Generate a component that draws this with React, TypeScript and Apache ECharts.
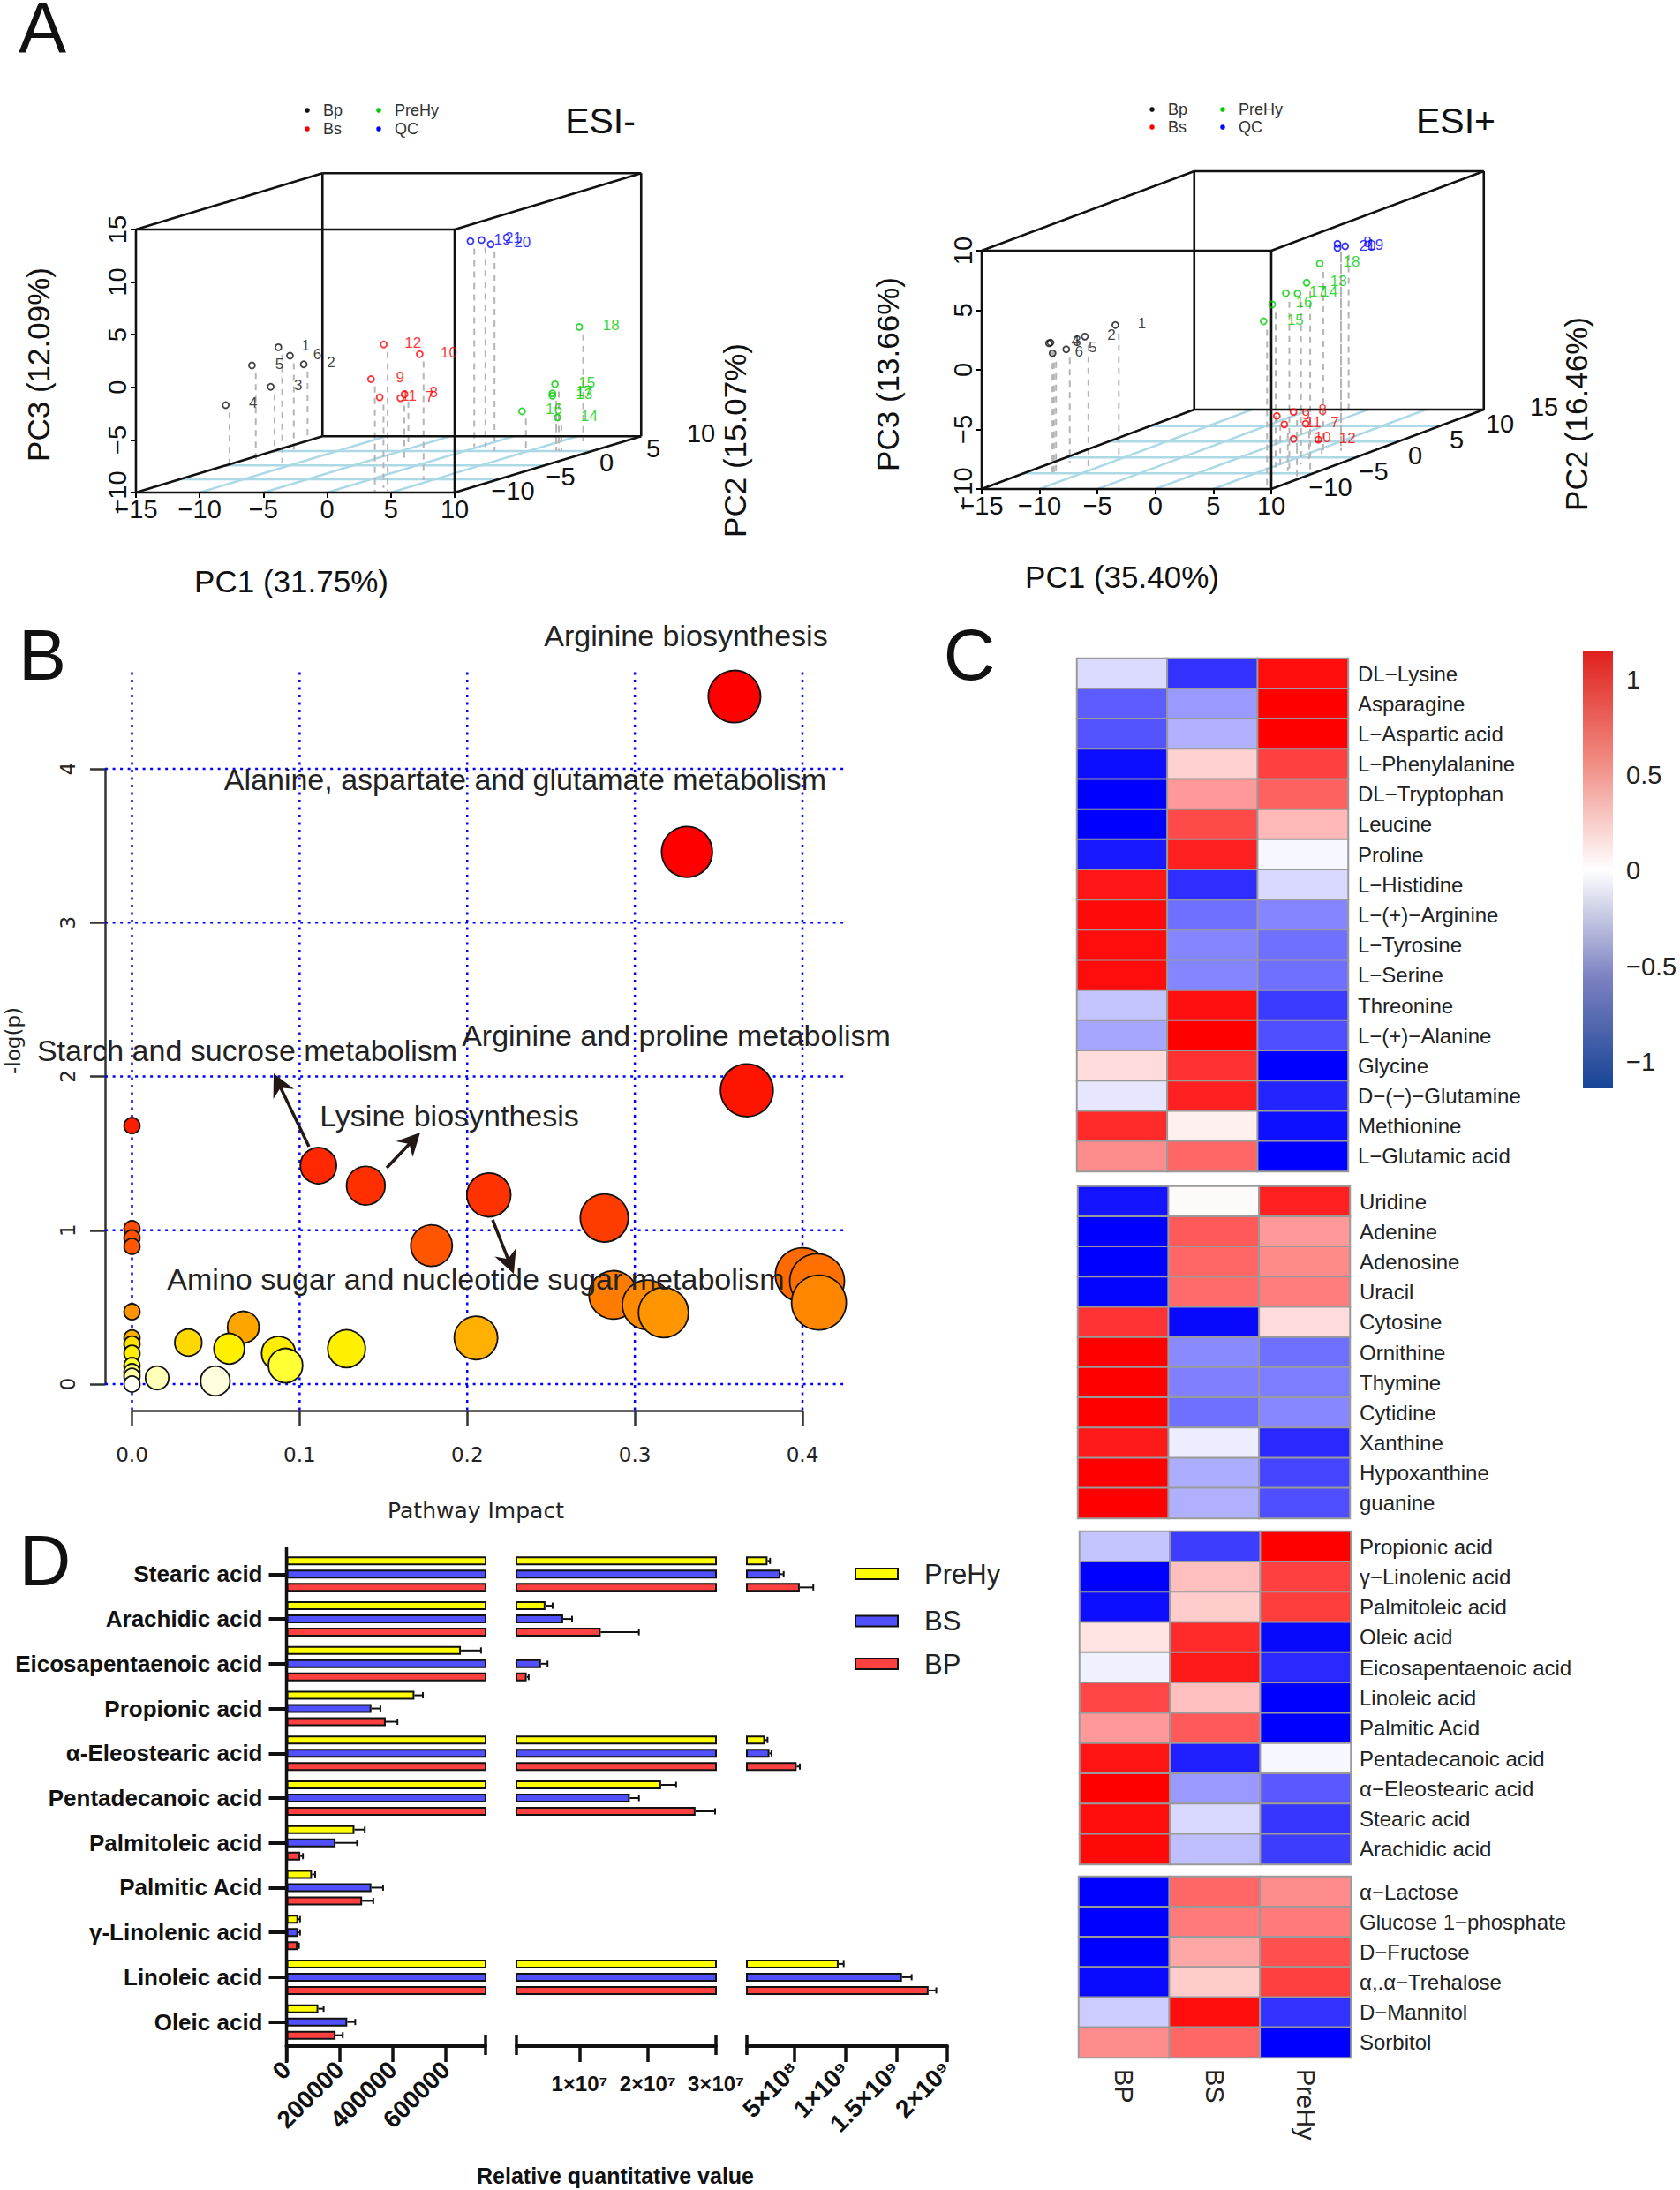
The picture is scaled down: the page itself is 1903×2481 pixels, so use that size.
import React, { useEffect, useRef } from "react";
import * as echarts from "echarts";

const FONT = "'Liberation Sans'";
const DV = "'DejaVu Sans'";

// ---------- Panel A: projected scores [PC1 screen, PC3 screen, floor level, sample label]
const negBp = [[-3.83,3.81,-7.16,"1"],[-2.92,3.0,-6.42,"6"],[-1.84,2.19,-4.76,"2"],[-5.9,2.08,-7.34,"5"],[-4.43,0.05,-6.23,"3"],[-7.96,-1.69,-7.71,"4"]];
const negBs = [[4.44,4.07,-9.93,"12"],[7.26,3.15,-8.82,"10"],[3.44,0.78,-9.9,"9"],[4.12,-0.95,-9.56,"11"],[5.75,-1.03,-7.16,"7"],[6.07,-0.66,-5.3,"8"]];
const negQc = [[11.24,13.89,-5.68,"19"],[12.11,14.0,-5.68,"21"],[12.83,13.6,-6.05,"20"]];
const negPre = [[19.78,5.73,-5.13,"18"],[17.87,0.3,-6.05,"15"],[17.67,-0.58,-6.05,"17"],[17.67,-0.8,-6.05,"13"],[15.29,-2.28,-5.86,"16"],[18.07,-2.87,-6.05,"14"]];
const posBp = [[-3.46,3.76,-7.36,"1"],[-6.09,2.79,-8.07,"2"],[-9.06,2.28,-8.64,"3"],[-9.19,2.23,-8.64,"4"],[-7.7,1.72,-7.79,"5"],[-8.88,1.38,-8.64,"6"]];
const posBs = [[10.48,-3.87,-8.0,"9"],[11.92,-3.53,-6.5,"8"],[11.13,-4.58,-8.5,"11"],[12.97,-4.52,-7.5,"7"],[11.92,-5.8,-9.0,"10"],[14.06,-5.86,-7.5,"12"]];
const posQc = [[15.72,10.57,-6.79,"8"],[15.72,10.23,-6.79,"20"],[16.38,10.37,-3.25,"19"]];
const posPre = [[14.19,8.92,-7.08,"18"],[13.06,7.31,-8.5,"13"],[11.26,6.43,-8.35,"17"],[12.27,6.4,-7.93,"14"],[10.08,5.49,-8.2,"16"],[9.34,4.07,-9.77,"15"]];

// ---------- Panel B: [pathway impact, -log(p)]
const pathways = [
  [0,1.68],[0,1.01],[0,0.95],[0,0.895],[0,0.47],[0,0.30],[0,0.26],[0,0.20],[0,0.12],[0,0.08],[0,0.05],[0,0.0],
  [0.3594,4.47],[0.3311,3.46],[0.3668,1.91],[0.1112,1.42],[0.1395,1.29],[0.2129,1.23],[0.2818,1.08],[0.1787,0.90],
  [0.4,0.71],[0.4087,0.67],[0.4098,0.53],[0.2871,0.58],[0.3073,0.515],[0.3171,0.465],[0.0664,0.37],[0.0336,0.27],
  [0.2052,0.30],[0.0580,0.23],[0.128,0.23],[0.0874,0.20],[0.0916,0.12],[0.0497,0.02],[0.015,0.04],
];
const impactTicks = [0,0.1,0.2,0.3,0.4];
const logpTicks = [0,1,2,3,4];

// ---------- Panel C
const heatGroups = ["BP","BS","PreHy"];
const aminoNames = ["DL\u2212Lysine","Asparagine","L\u2212Aspartic acid","L\u2212Phenylalanine","DL\u2212Tryptophan","Leucine","Proline","L\u2212Histidine","L\u2212(+)\u2212Arginine","L\u2212Tyrosine","L\u2212Serine","Threonine","L\u2212(+)\u2212Alanine","Glycine","D\u2212(\u2212)\u2212Glutamine","Methionine","L\u2212Glutamic acid"];
const aminoVals = [[-.14,-.8,.95],[-.64,-.4,1],[-.67,-.31,1],[-.95,.18,.75],[-1,.4,.62],[-1,.71,.28],[-.9,.87,-.03],[.91,-.82,-.15],[.96,-.56,-.48],[.95,-.48,-.56],[.95,-.48,-.56],[-.23,.94,-.77],[-.35,1,-.69],[.14,.81,-1],[-.1,.87,-.86],[.83,.06,-.94],[.45,.6,-1]];
const nucleoNames = ["Uridine","Adenine","Adenosine","Uracil","Cytosine","Ornithine","Thymine","Cytidine","Xanthine","Hypoxanthine","guanine"];
const nucleoVals = [[-.92,.02,.87],[-1,.65,.4],[-1,.6,.46],[-.98,.58,.51],[.8,-.97,.14],[1,-.46,-.56],[1,-.5,-.51],[1,-.56,-.47],[.9,-.07,-.84],[1,-.32,-.73],[1,-.31,-.69]];
const fattyNames = ["Propionic acid","\u03B3\u2212Linolenic acid","Palmitoleic acid","Oleic acid","Eicosapentaenoic acid","Linoleic acid","Palmitic Acid","Pentadecanoic acid","\u03B1\u2212Eleostearic acid","Stearic acid","Arachidic acid"];
const fattyVals = [[-.23,-.76,1],[-1,.25,.75],[-.95,.2,.76],[.11,.83,-.97],[-.06,.9,-.84],[.73,.25,-1],[.4,.65,-1],[.92,-.88,-.03],[1,-.4,-.65],[.95,-.15,-.79],[.97,-.25,-.76]];
const sugarNames = ["\u03B1\u2212Lactose","Glucose 1\u2212phosphate","D\u2212Fructose","\u03B1,.\u03B1\u2212Trehalose","D\u2212Mannitol","Sorbitol"];
const sugarVals = [[-1,.6,.45],[-1,.52,.52],[-1,.35,.69],[-.96,.2,.75],[-.2,.95,-.8],[.45,.6,-1]];
const colorbarTicks = ["1","0.5","0","\u22120.5","\u22121"];

// ---------- Panel D
const acids = ["Stearic acid","Arachidic acid","Eicosapentaenoic acid","Propionic acid","\u03B1-Eleostearic acid","Pentadecanoic acid","Palmitoleic acid","Palmitic Acid","\u03B3-Linolenic acid","Linoleic acid","Oleic acid"];
const prehyVals = [2.33e8,5.0e6,6.57e5,4.82e5,2.08e8,2.196e7,2.56e5,9.6e4,4.4e4,9.32e8,1.2e5];
const bsVals = [3.6e8,7.6e6,4.35e6,3.2e5,2.52e8,1.737e7,1.85e5,3.2e5,4.4e4,1.555e9,2.29e5];
const bpVals = [5.5e8,1.31e7,2.25e6,3.74e5,5.19e8,2.7e7,5.2e4,2.85e5,4.2e4,1.816e9,1.85e5];
const prehyErr = [2.5e7,1.05e6,7.6e4,3.2e4,2.5e7,2.2e6,3.9e4,1.2e4,7e3,5e7,2e4];
const bsErr = [3.2e7,1.3e6,9.6e5,3.4e4,2e7,1.34e6,8.1e4,4.4e4,7e3,9.5e7,3e4];
const bpErr = [1.33e8,5.6e6,2.9e5,4.4e4,3.2e7,2.87e6,1e4,4.2e4,5e3,7.6e7,2.7e4];
const seg1Ticks = [0,200000,400000,600000];
const seg2Ticks = [1e7,2e7,3e7];
const seg3Ticks = [5e8,1e9,1.5e9,2e9];
const seg2Names: Record<number,string> = {1e7:"1\u00D710\u2077",2e7:"2\u00D710\u2077",3e7:"3\u00D710\u2077"};
const seg3Names: Record<number,string> = {5e8:"5\u00D710\u2078",1e9:"1\u00D710\u2079",1.5e9:"1.5\u00D710\u2079",2e9:"2\u00D710\u2079"};

// ---------- helpers
type Seg = number[];
function segs(xi: number, data: Seg[], stroke: string, lineWidth: number, lineDash?: number[]) {
  return {
    type: "custom", xAxisIndex: xi, yAxisIndex: xi, silent: true, data,
    encode: { x: [0, 2], y: [1, 3] },
    renderItem: (_: any, api: any) => {
      const a = api.coord([api.value(0), api.value(1)]);
      const b = api.coord([api.value(2), api.value(3)]);
      return { type: "line", shape: { x1: a[0], y1: a[1], x2: b[0], y2: b[1] }, style: { stroke, lineWidth, lineDash, fill: null } };
    },
  };
}
function txt(text: string, x: number, y: number, size: number, o: any = {}) {
  return {
    type: "text", x, y, rotation: o.rotation || 0, z: 100, silent: true,
    style: { text, font: `${o.weight || "normal"} ${size}px ${o.family || FONT}`, fill: o.fill || "#111", align: o.align || "center", verticalAlign: "middle", lineHeight: o.lineHeight },
  };
}
function arrow(x1: number, y1: number, x2: number, y2: number) {
  const ang = Math.atan2(y2 - y1, x2 - x1);
  const ca = Math.cos(ang), sa = Math.sin(ang);
  const pt = (l: number, w: number) => [x2 + l * ca - w * sa, y2 + l * sa + w * ca];
  return [
    { type: "line", z: 99, silent: true, shape: { x1, y1, x2: pt(-10, 0)[0], y2: pt(-10, 0)[1] }, style: { stroke: "#231815", lineWidth: 3.5 } },
    { type: "polygon", z: 99, silent: true, shape: { points: [pt(0, 0), pt(-26, 13), pt(-18, 0), pt(-26, -13)] }, style: { fill: "#231815" } },
  ];
}
const heatStops: [number, string][] = [[0,"#fffff5"],[0.02,"#ffffe0"],[0.04,"#ffffb8"],[0.12,"#ffff33"],[0.2,"#ffee00"],[0.23,"#fff000"],[0.27,"#ffd800"],[0.3,"#ffb000"],[0.37,"#ffa500"],[0.47,"#ff9400"],[0.6,"#ff7800"],[0.9,"#ff5500"],[1.01,"#ff4c00"],[1.1,"#ff3800"],[1.5,"#ff2400"],[2,"#ff1000"],[3,"#ff0000"]];
function heat(v: number) {
  for (let i = 1; i < heatStops.length; i++) {
    if (v <= heatStops[i][0]) {
      const t = (v - heatStops[i - 1][0]) / (heatStops[i][0] - heatStops[i - 1][0]);
      return echarts.color.lerp(t, [heatStops[i - 1][1], heatStops[i][1]]);
    }
  }
  return "#ff0000";
}
const minus = (v: number) => String(v).replace("-", "\u2212");

function buildOption() {
  const grids: any[] = [], xAxis: any[] = [], yAxis: any[] = [], series: any[] = [], g: any[] = [];

  // ---- A
  const pcaPanel = (
    idx: number, rect: number[], yMin: number, yMax: number, du: number, dv: number, fr: number[],
    groups: { d: any[]; c: string; off: number }[]
  ) => {
    grids.push({ left: rect[0], top: rect[1], width: rect[2], height: rect[3], containLabel: false });
    xAxis.push({ gridIndex: idx, type: "value", min: -15, max: 10, interval: 5, splitLine: { show: false }, axisLine: { show: false, onZero: false },
      axisTick: { show: true, length: 6, lineStyle: { color: "#000", width: 2 } }, axisLabel: { fontSize: 29, color: "#111", margin: 4, formatter: minus } });
    yAxis.push({ gridIndex: idx, type: "value", min: yMin, max: yMax, interval: 5, splitLine: { show: false }, axisLine: { show: false, onZero: false },
      axisTick: { show: true, length: 6, lineStyle: { color: "#000", width: 2 } }, axisLabel: { fontSize: 29, color: "#111", margin: 7, rotate: 90, formatter: minus } });
    const floor: Seg[] = [];
    fr.forEach((f) => floor.push([-15 + du * f, yMin + dv * f, 10 + du * f, yMin + dv * f]));
    [-10, -5, 0, 5].forEach((x) => floor.push([x, yMin, x + du, yMin + dv]));
    series.push(segs(idx, floor, "#add8e6", 2.5));
    const drops: Seg[] = [];
    groups.forEach((gr) => gr.d.forEach((p) => drops.push([p[0] + 0.3, p[1] - 0.7, p[0] + 0.3, p[2]])));
    series.push(segs(idx, drops, "#b5b5b5", 2, [7, 6]));
    const box: Seg[] = [
      [-15, yMin, 10, yMin], [10, yMin, 10, yMax], [10, yMax, -15, yMax], [-15, yMax, -15, yMin],
      [-15 + du, yMin + dv, 10 + du, yMin + dv], [10 + du, yMin + dv, 10 + du, yMax + dv], [10 + du, yMax + dv, -15 + du, yMax + dv], [-15 + du, yMax + dv, -15 + du, yMin + dv],
      [-15, yMin, -15 + du, yMin + dv], [10, yMin, 10 + du, yMin + dv], [10, yMax, 10 + du, yMax + dv], [-15, yMax, -15 + du, yMax + dv],
    ];
    series.push(segs(idx, box, "#111", 2.6));
    groups.forEach((gr) => {
      series.push({
        type: "scatter", xAxisIndex: idx, yAxisIndex: idx, clip: false, symbolSize: 7, silent: true,
        itemStyle: { color: "rgba(255,255,255,0)", borderColor: gr.c, borderWidth: 1.8 },
        label: { show: true, position: "inside", offset: [gr.off, -2], fontSize: 17, color: gr.c, formatter: (p: any) => p.data.name },
        data: gr.d.map((p) => ({ value: [p[0], p[1]], name: p[3] })),
      });
    });
  };
  const K = "#111", R = "#ff0000", G = "#00cd00", B = "#0000ff";
  pcaPanel(0, [154, 260, 361, 298], -10, 15, 14.63, 5.35, [0.234, 0.483, 0.738], [
    { d: negBp, c: K, off: 31 }, { d: negBs, c: R, off: 33 }, { d: negQc, c: B, off: 36 }, { d: negPre, c: G, off: 36 },
  ]);
  pcaPanel(1, [1112, 284, 328, 270], -10, 10, 18.35, 6.67, [0.196, 0.396, 0.596, 0.791], [
    { d: posBp, c: K, off: 30 }, { d: posBs, c: R, off: 33 }, { d: posQc, c: B, off: 34 }, { d: posPre, c: G, off: 36 },
  ]);
  const legendA = (x1: number, x2: number, y1: number, y2: number, tx: number) => {
    ([["Bp", x1, y1, K], ["Bs", x1, y2, R], ["PreHy", x2, y1, G], ["QC", x2, y2, B]] as any[]).forEach(([t, x, y, c]) => {
      g.push({ type: "circle", z: 100, silent: true, shape: { cx: x, cy: y, r: 2.8 }, style: { fill: c } });
      g.push(txt(t, x + tx, y, 18, { align: "left", fill: "#333" }));
    });
  };
  legendA(348, 429, 125, 146, 18);
  legendA(1305, 1385, 124, 144, 18);
  g.push(txt("A", 48, 31, 81, { lineHeight: 58 }), txt("B", 48, 742, 81), txt("C", 1098, 742, 81), txt("D", 51, 1768, 81));
  g.push(txt("ESI-", 680, 137, 41), txt("ESI+", 1649, 137, 41));
  g.push(txt("PC1 (31.75%)", 330, 658, 35), txt("PC3 (12.09%)", 43, 413, 35, { rotation: Math.PI / 2 }), txt("PC2 (15.07%)", 832, 499, 35, { rotation: Math.PI / 2 }));
  g.push(txt("PC1 (35.40%)", 1271, 653, 35), txt("PC3 (13.66%)", 1005, 424, 35, { rotation: Math.PI / 2 }), txt("PC2 (16.46%)", 1785, 469, 35, { rotation: Math.PI / 2 }));
  ([["\u221210",581,556],["\u22125",635,540],["0",687,524],["5",740,508],["10",794,491]] as any[]).forEach(([t,x,y]) => g.push(txt(t,x,y,29)));
  ([["\u221210",1507,552],["\u22125",1556,534],["0",1603,516],["5",1650,498],["10",1699,480],["15",1749,461]] as any[]).forEach(([t,x,y]) => g.push(txt(t,x,y,29)));

  // ---- B
  grids.push({ left: 149.5, top: 871, width: 759.5, height: 697 });
  xAxis.push({ gridIndex: 2, type: "value", min: 0, max: 0.4, interval: 0.1, offset: 30, splitLine: { show: false },
    axisLine: { show: true, onZero: false, lineStyle: { color: "#333", width: 2.5 } }, axisTick: { show: true, length: 17, lineStyle: { color: "#333", width: 2.5 } },
    axisLabel: { fontFamily: DV, fontSize: 23, color: "#222", margin: 38, formatter: (v: number) => v.toFixed(1) } });
  yAxis.push({ gridIndex: 2, type: "value", min: 0, max: 4, interval: 1, offset: 30.5, splitLine: { show: false },
    axisLine: { show: true, onZero: false, lineStyle: { color: "#333", width: 2.5 } }, axisTick: { show: true, length: 17, lineStyle: { color: "#333", width: 2.5 } },
    axisLabel: { fontFamily: DV, fontSize: 23, color: "#222", margin: 31, rotate: 90 } });
  series.push(segs(2, [
    ...logpTicks.map((y) => [-0.016, y, 0.4267, y]),
    ...impactTicks.map((x) => [x, -0.17, x, 4.65]),
  ], "#0000ff", 2.5, [3, 5.5]));
  series.push({
    type: "scatter", xAxisIndex: 2, yAxisIndex: 2, clip: false, silent: true, data: pathways,
    symbolSize: (v: number[]) => 18 + 44 * Math.sqrt(v[0] / 0.41),
    itemStyle: { color: (p: any) => heat(p.value[1]), borderColor: "#111", borderWidth: 1.8, opacity: 1 },
  });
  g.push(txt("Pathway Impact", 539, 1711, 25, { family: DV, fill: "#222" }), txt("-log(p)", 15, 1179, 23, { family: DV, fill: "#222", rotation: Math.PI / 2 }));
  g.push(txt("Arginine biosynthesis", 777, 720, 34, { fill: "#222" }));
  g.push(txt("Alanine, aspartate and glutamate metabolism", 595, 883, 34, { fill: "#222" }));
  g.push(txt("Starch and sucrose metabolism", 280, 1190, 34, { fill: "#222" }));
  g.push(txt("Arginine and proline metabolism", 766, 1173, 34, { fill: "#222" }));
  g.push(txt("Lysine biosynthesis", 509, 1264, 34, { fill: "#222" }));
  g.push(txt("Amino sugar and nucleotide sugar metabolism", 539, 1449, 34, { fill: "#222" }));
  g.push(...arrow(350, 1299, 310, 1216), ...arrow(438, 1323, 476, 1283), ...arrow(558, 1382, 582, 1443));

  // ---- C
  const heatSeriesIdx: number[] = [];
  const heatBlock = (idx: number, rect: number[], names: string[], vals: number[][], showX: boolean, margin: number) => {
    grids.push({ left: rect[0], top: rect[1], width: rect[2], height: rect[3] });
    xAxis.push({ gridIndex: idx, type: "category", data: heatGroups, axisLine: { show: false }, axisTick: { show: false }, splitLine: { show: false },
      axisLabel: showX ? { show: true, rotate: -90, fontSize: 29, color: "#222", margin: 13 } : { show: false } });
    yAxis.push({ gridIndex: idx, type: "category", inverse: true, position: "right", data: names, axisLine: { show: false }, axisTick: { show: false }, splitLine: { show: false },
      axisLabel: { fontSize: 24, color: "#222", margin, interval: 0 } });
    const data: number[][] = [];
    vals.forEach((row, r) => row.forEach((v, c) => data.push([c, r, v])));
    heatSeriesIdx.push(series.length);
    series.push({ type: "heatmap", xAxisIndex: idx, yAxisIndex: idx, silent: true, data, itemStyle: { borderColor: "#9a9a9a", borderWidth: 2 } });
  };
  heatBlock(3, [1220, 746, 307, 581], aminoNames, aminoVals, false, 11);
  heatBlock(4, [1221, 1344, 308, 376], nucleoNames, nucleoVals, false, 11);
  heatBlock(5, [1223, 1735, 307, 377], fattyNames, fattyVals, false, 10);
  heatBlock(6, [1222, 2126, 308, 205], sugarNames, sugarVals, true, 10);
  g.push({ type: "rect", z: 100, silent: true, shape: { x: 1793, y: 737, width: 34, height: 496 }, style: {
    fill: { type: "linear", x: 0, y: 0, x2: 0, y2: 1, colorStops: [
      { offset: 0, color: "#e0201c" }, { offset: 0.25, color: "#f08a80" }, { offset: 0.5, color: "#ffffff" }, { offset: 0.75, color: "#7a80c0" }, { offset: 1, color: "#174496" },
    ] } } });
  colorbarTicks.forEach((t, i) => g.push(txt(t, 1842, 770 + i * 108.2, 29, { align: "left", fill: "#222" })));

  // ---- D
  const ranges = [[0, 750000], [750000, 3e7], [3e7, 2e9]];
  const segLeft = [324.5, 585, 846];
  const segWidth = [225.5, 226, 227];
  const segTicks = [seg1Ticks, seg2Ticks, seg3Ticks];
  const segFmt = [(v: number) => String(v), (v: number) => seg2Names[v], (v: number) => seg3Names[v]];
  const vals3 = [prehyVals, bsVals, bpVals], errs3 = [prehyErr, bsErr, bpErr];
  const cols3 = ["#ffff00", "#5050ff", "#ff4040"];
  ranges.forEach((rg, i) => {
    const idx = 7 + i;
    grids.push({ left: segLeft[i], top: 1758, width: segWidth[i], height: 558 });
    xAxis.push({ gridIndex: idx, type: "value", min: rg[0], max: rg[1], offset: 2, splitLine: { show: false },
      axisLine: { show: true, onZero: false, lineStyle: { color: "#111", width: 4 } },
      axisTick: { show: true, length: 18, customValues: i === 1 ? [1e7, 2e7] : segTicks[i], lineStyle: { color: "#111", width: 3.5 } },
      axisLabel: { customValues: segTicks[i], fontWeight: "bold", fontSize: i === 1 ? 24 : 28, color: "#111", margin: i === 1 ? 30 : 22, rotate: i === 1 ? 0 : 45, formatter: segFmt[i], showMaxLabel: true, showMinLabel: true, hideOverlap: false } });
    yAxis.push({ gridIndex: idx, type: "category", inverse: true, data: acids, splitLine: { show: false }, axisLine: { show: false },
      axisTick: { show: i === 0, alignWithLabel: true, length: 20, lineStyle: { color: "#111", width: 4 } },
      axisLabel: i === 0 ? { show: true, fontWeight: "bold", fontSize: 26, color: "#111", margin: 27, interval: 0 } : { show: false } });
    vals3.forEach((vals, s) => {
      series.push({ type: "bar", xAxisIndex: idx, yAxisIndex: idx, silent: true, data: vals, barWidth: 10, barGap: "50%",
        itemStyle: { color: cols3[s], borderColor: "#111", borderWidth: 2 } });
    });
    const errData: number[][] = [];
    vals3.forEach((vals, s) => vals.forEach((v, r) => { if (v >= rg[0] && v < rg[1]) errData.push([v, r, errs3[s][r], s]); }));
    series.push({
      type: "custom", xAxisIndex: idx, yAxisIndex: idx, silent: true, clip: false, data: errData, encode: { x: 0, y: 1 },
      renderItem: (_: any, api: any) => {
        const a = api.coord([api.value(0), api.value(1)]);
        const b = api.coord([api.value(0) + api.value(2), api.value(1)]);
        const y = a[1] + (api.value(3) - 1) * 15;
        const st = { stroke: "#111", lineWidth: 2, fill: null };
        return { type: "group", children: [
          { type: "line", shape: { x1: a[0], y1: y, x2: b[0], y2: y }, style: st },
          { type: "line", shape: { x1: b[0], y1: y - 3.5, x2: b[0], y2: y + 3.5 }, style: st },
        ] };
      },
    });
  });
  const cap = (x: number) => ({ type: "line", z: 90, silent: true, shape: { x1: x, y1: 2305, x2: x, y2: 2328 }, style: { stroke: "#111", lineWidth: 3.5 } });
  g.push(cap(550), cap(585), cap(811), cap(846));
  g.push({ type: "line", z: 90, silent: true, shape: { x1: 324.5, y1: 1753, x2: 324.5, y2: 2337 }, style: { stroke: "#111", lineWidth: 3.5 } });
  g.push(txt("Relative quantitative value", 697, 2465, 25, { weight: "bold" }));
  ([["PreHy", 1783, cols3[0]], ["BS", 1836.5, cols3[1]], ["BP", 1885, cols3[2]]] as any[]).forEach(([t, y, c]) => {
    g.push({ type: "rect", z: 100, silent: true, shape: { x: 969, y: y - 6, width: 48, height: 12 }, style: { fill: c, stroke: "#111", lineWidth: 2 } });
    g.push(txt(t, 1047, y, 31, { align: "left", fill: "#222" }));
  });

  return {
    animation: false, backgroundColor: "#fff",
    textStyle: { fontFamily: FONT },
    grid: grids, xAxis, yAxis, series,
    visualMap: { show: false, type: "continuous", min: -1, max: 1, dimension: 2, seriesIndex: heatSeriesIdx, inRange: { color: ["#0000ff", "#ffffff", "#ff0000"] } },
    graphic: { elements: g },
  };
}

export default function App() {
  const ref = useRef<HTMLDivElement>(null);
  useEffect(() => {
    const chart = echarts.init(ref.current!, null, { renderer: "svg" });
    chart.setOption(buildOption() as any);
    return () => chart.dispose();
  }, []);
  return <div ref={ref} style={{ position: "absolute", left: 0, top: 0, width: 1903, height: 2481 }} />;
}
